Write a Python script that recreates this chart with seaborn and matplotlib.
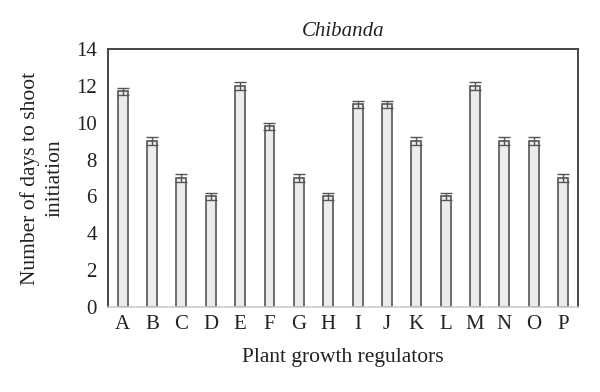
import pandas as pd
import matplotlib
matplotlib.use("Agg")
import matplotlib.pyplot as plt
import seaborn as sns

# Data
regulators = list("ABCDEFGHIJKLMNOP")
days = [11.7, 9, 7, 6, 12, 9.8, 7, 6, 11, 11, 9, 6, 12, 9, 9, 7]
err = [0.2] * 16

data = pd.DataFrame({"Regulator": regulators, "Days": days, "Err": err})

sns.set_style("white")
plt.rcParams["font.family"] = ["Liberation Serif", "DejaVu Serif"]

fig = plt.figure(figsize=(6, 3.92), dpi=100)
ax = fig.add_axes([0.18, 0.217, 0.783, 0.658])

sns.barplot(x="Regulator", y="Days", data=data, color="#ececec",
            edgecolor="#555555", linewidth=1.2, width=0.34, ax=ax)
ax.errorbar(range(len(regulators)), data["Days"], yerr=data["Err"], fmt="none",
            ecolor="#555555", elinewidth=1, capsize=4, capthick=1)

ax.set_ylim(0, 14)
ax.set_xlim(-0.5, len(regulators) - 0.5)
ax.set_yticks(range(0, 15, 2))
ax.tick_params(axis="both", labelsize=15, length=0, colors="#222222")
ax.tick_params(axis="x", pad=6)
ax.tick_params(axis="y", pad=8)
ax.set_title("Chibanda", style="italic", fontsize=15, color="#222222", pad=9)
ax.set_xlabel("Plant growth regulators", fontsize=15.5, labelpad=10, color="#222222")
ax.set_ylabel("Number of days to shoot\ninitiation", fontsize=15.5, color="#222222",
              linespacing=1.45, labelpad=8)

for side in ["left", "top", "right"]:
    ax.spines[side].set_color("#444444")
    ax.spines[side].set_linewidth(1.4)
ax.spines["bottom"].set_color("#cccccc")
ax.spines["bottom"].set_linewidth(1.2)

fig.savefig("out.png", dpi=100)
